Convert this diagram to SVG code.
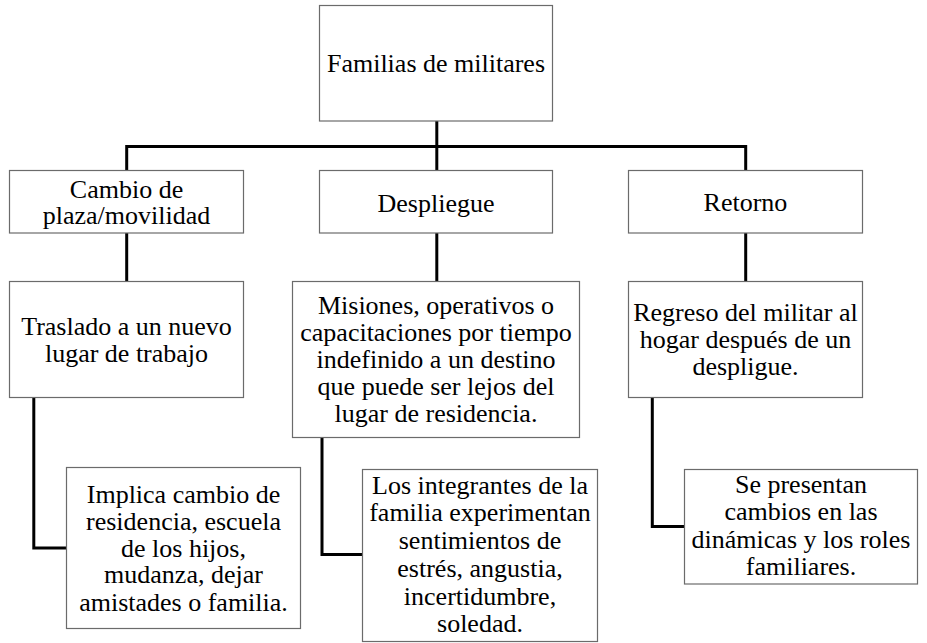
<svg xmlns="http://www.w3.org/2000/svg" width="927" height="643" viewBox="0 0 927 643">
<style>
.box{fill:#ffffff;stroke:#6b6b6b;stroke-width:1.2}
text{font-family:'Liberation Serif','Times New Roman',serif;font-size:26px;fill:#000;text-anchor:middle}
.con{fill:none;stroke:#000;stroke-width:3;stroke-linecap:square;stroke-linejoin:miter}
</style>
<rect x="0" y="0" width="927" height="643" fill="#ffffff"/>
<g id="connectors">
<path class="con" d="M436.8 121 V146.5"/>
<path class="con" d="M126.7 170.5 V146.5 H745.7 V170.5"/>
<path class="con" d="M436.8 146.5 V170.5"/>
<path class="con" d="M126.7 233 V281.5"/>
<path class="con" d="M436.8 233 V281.5"/>
<path class="con" d="M745.7 233 V281.5"/>
<path class="con" d="M33.8 397.5 V548 H66.5"/>
<path class="con" d="M322 437.5 V554.5 H362.5"/>
<path class="con" d="M652.3 397.5 V526.5 H684.5"/>
</g>
<g id="n-familias">
<rect class="box" x="319.5" y="5.5" width="233" height="115.5"/>
<text x="436" y="72">Familias de militares</text>
</g>
<g id="n-cambio">
<rect class="box" x="9.5" y="170.5" width="234" height="62.5"/>
<text><tspan x="126.5" y="197.5">Cambio de</tspan><tspan x="126.5" y="224">plaza/movilidad</tspan></text>
</g>
<g id="n-despliegue">
<rect class="box" x="319.5" y="170.5" width="233" height="62.5"/>
<text x="436" y="211.5">Despliegue</text>
</g>
<g id="n-retorno">
<rect class="box" x="628.5" y="170.5" width="234" height="62.5"/>
<text x="745.5" y="211">Retorno</text>
</g>
<g id="n-traslado">
<rect class="box" x="9.5" y="281.5" width="234" height="116"/>
<text><tspan x="126.5" y="335">Traslado a un nuevo</tspan><tspan x="126.5" y="362">lugar de trabajo</tspan></text>
</g>
<g id="n-misiones">
<rect class="box" x="292.5" y="281.5" width="287" height="156"/>
<text><tspan x="436" y="314.3">Misiones, operativos o</tspan><tspan x="436" y="341">capacitaciones por tiempo</tspan><tspan x="436" y="368.3">indefinido a un destino</tspan><tspan x="436" y="395">que puede ser lejos del</tspan><tspan x="436" y="422.3">lugar de residencia.</tspan></text>
</g>
<g id="n-regreso">
<rect class="box" x="628.5" y="281.5" width="234" height="116"/>
<text><tspan x="745.5" y="320.5">Regreso del militar al</tspan><tspan x="745.5" y="347.5">hogar después de un</tspan><tspan x="745.5" y="374.5">despligue.</tspan></text>
</g>
<g id="n-implica">
<rect class="box" x="66.5" y="467.5" width="234" height="161"/>
<text><tspan x="183.5" y="503.3">Implica cambio de</tspan><tspan x="183.5" y="530">residencia, escuela</tspan><tspan x="183.5" y="556.7">de los hijos,</tspan><tspan x="183.5" y="583.3">mudanza, dejar</tspan><tspan x="183.5" y="611">amistades o familia.</tspan></text>
</g>
<g id="n-integrantes">
<rect class="box" x="362.5" y="469.5" width="235" height="172"/>
<text><tspan x="480" y="494">Los integrantes de la</tspan><tspan x="480" y="521">familia experimentan</tspan><tspan x="480" y="549">sentimientos de</tspan><tspan x="480" y="577">estrés, angustia,</tspan><tspan x="480" y="604.5">incertidumbre,</tspan><tspan x="480" y="631.5">soledad.</tspan></text>
</g>
<g id="n-presentan">
<rect class="box" x="684.5" y="469.5" width="233" height="114.5"/>
<text><tspan x="801" y="493.3">Se presentan</tspan><tspan x="801" y="519.5">cambios en las</tspan><tspan x="801" y="548.3">dinámicas y los roles</tspan><tspan x="801" y="575">familiares.</tspan></text>
</g>
</svg>
